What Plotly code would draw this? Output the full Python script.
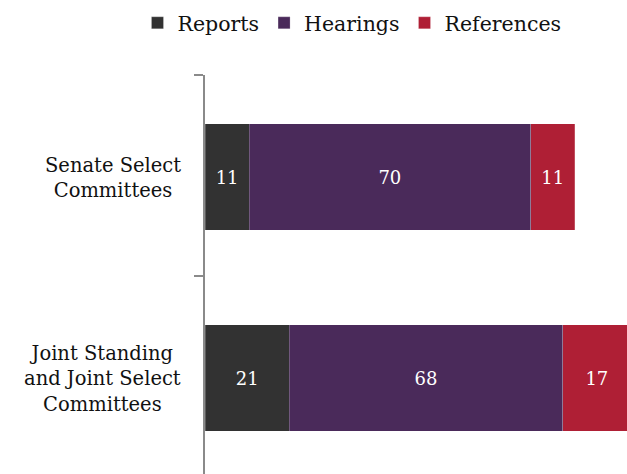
import plotly.graph_objects as go

categories = ["Senate Select<br>Committees", "Joint Standing<br>and Joint Select<br>Committees"]
reports = [11, 21]
hearings = [70, 68]
references = [11, 17]
series_names = ["Reports", "Hearings", "References"]
colors = ["#323232", "#4a2a5a", "#af1f35"]

FONT = "DejaVu Serif"

fig = go.Figure()
for name, vals, col in zip(series_names, [reports, hearings, references], colors):
    fig.add_trace(go.Bar(
        name=name, y=categories, x=vals, orientation="h",
        marker=dict(color=col, line=dict(width=0.6, color="rgba(255,255,255,0.35)")),
        text=vals, textposition="inside", insidetextanchor="middle",
        textfont=dict(family=FONT, size=18, color="white"),
        width=0.53, offset=-0.257,
    ))

# category labels, centred multi-line like the original
for cat in categories:
    fig.add_annotation(text=cat, xref="paper", yref="y", x=-0.0521, y=cat,
                       xanchor="right", yanchor="middle", align="center",
                       showarrow=False, yshift=-2,
                       font=dict(family=FONT, size=19.5, color="#111111"))

fig.update_layout(
    barmode="stack",
    width=627, height=474,
    margin=dict(l=205, r=0, t=75, b=0, pad=0, autoexpand=False),
    plot_bgcolor="white", paper_bgcolor="white",
    font=dict(family=FONT, size=18, color="#111111"),
    showlegend=True,
    legend=dict(orientation="h", xref="paper", yref="paper",
                x=-0.16, y=1.1303, xanchor="left", yanchor="middle",
                font=dict(family=FONT, size=20.5, color="#111111"),
                traceorder="normal", itemwidth=30, tracegroupgap=0),
    xaxis=dict(range=[0, 105], visible=False, fixedrange=True),
    yaxis=dict(range=[1.485, -0.5], tickson="boundaries", ticks="outside",
               ticklen=9, tickwidth=2, tickcolor="#8a8a8a",
               showline=True, linewidth=2, linecolor="#8a8a8a",
               showgrid=False, showticklabels=False),
)

fig.write_html("out.html", config={"displayModeBar": False},
               post_script="document.body.style.margin='0';document.body.style.overflow='hidden';")
